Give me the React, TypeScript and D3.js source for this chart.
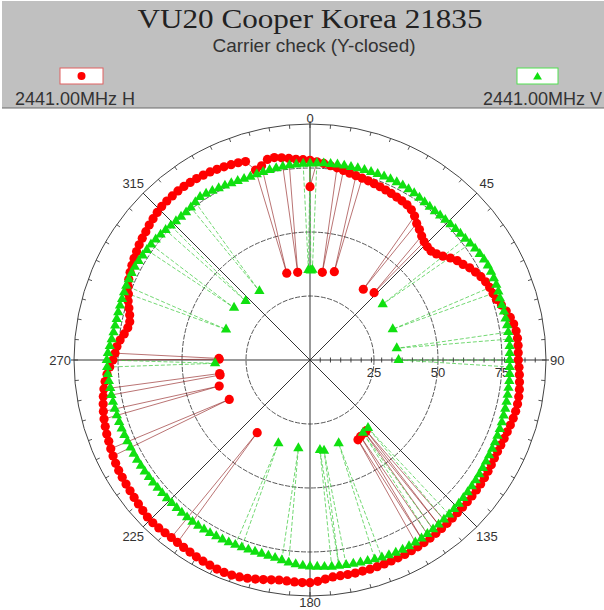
import * as d3 from "d3";
import * as React from "react";

const title = "VU20 Cooper Korea 21835";
const subtitle = "Carrier check (Y-closed)";
const seriesNames = ["2441.00MHz H", "2441.00MHz V"];

// main pattern, one value every 2 degrees (0..358)
const angleStep = 2;
const hMain = [
  78, 77.5, 77, 76.3, 75.8, 75.2, 74.6, 74.2, 73.9, 73.6,
  73.3, 73, 72.7, 72.4, 72.1, 71.8, 71.5, 70.8, 69.5, 67.7,
  66.5, 65.2, 64.2, 63.7, 63.6, 64.5, 65.9, 67.8, 69.4, 70.5,
  72, 73.2, 74.3, 75.1, 75.7, 76.1, 76.6, 77.8, 79, 80,
  80.8, 81.3, 81.5, 81.5, 81.4, 81.4, 81.7, 82, 82.3, 82.6,
  82.8, 82.9, 82.8, 82.6, 82.3, 82, 81.8, 81.6, 81.5, 81.6,
  81.8, 82, 82.2, 82.4, 82.5, 82.6, 82.7, 82.8, 82.9, 83.1,
  83.3, 83.5, 83.7, 83.9, 84.1, 84.3, 84.4, 84.5, 84.6, 84.7,
  84.8, 84.9, 85, 85, 85.1, 85.1, 85.1, 85.2, 85.8, 86.5,
  87, 87, 86.9, 86.8, 86.8, 87.2, 87.7, 88.2, 88.7, 89.1,
  89.4, 89.5, 89.4, 89.2, 89, 88.8, 88.5, 88.3, 88.1, 88,
  88.1, 88.3, 88.4, 88.3, 87.9, 87.5, 87.2, 86.9, 86.7, 86.5,
  86.3, 86, 85.6, 85.2, 84.8, 84.5, 84.1, 83.7, 83.2, 82.6,
  82, 81.3, 80.5, 79.5, 78.3, 77, 76.2, 75.6, 74.6, 73.3,
  72.3, 72, 72.6, 73.6, 74.7, 75.5, 76.6, 77.5, 78.2, 78.8,
  79.4, 79.9, 80.5, 81, 81.4, 82, 82.5, 83, 83.4, 83.6,
  83.7, 83.8, 83.8, 83.7, 83.6, 83.4, 83.2, 82.9, 82.6, 82.3,
  82, 81.5, 77.2, 78.2, 80.1, 80.3, 79.8, 79.2, 78.6, 78.3,
];
const vMain = [
  76.8, 76.9, 77, 77, 77.1, 77.1, 77.1, 77.2, 77.2, 77.2,
  77.3, 77.3, 77.3, 77.3, 77.2, 77, 76.8, 76.5, 76.2, 76,
  75.9, 76, 76.1, 76.3, 76.5, 76.7, 77, 77.4, 77.8, 78.2,
  78.5, 78.7, 78.7, 78.6, 78.5, 78.3, 78, 78, 78.1, 78.1,
  78.2, 78.2, 78.2, 78.2, 78.1, 78, 78.1, 78.2, 78.3, 78.3,
  78.4, 78.5, 78.6, 78.7, 78.8, 78.9, 79, 79.1, 79.2, 79.3,
  79.4, 79.6, 79.8, 80, 80.2, 80.4, 80.6, 80.8, 81, 81.2,
  81.4, 81.6, 81.8, 82, 82.2, 82.3, 82.4, 82.5, 82.4, 82.3,
  82.1, 81.9, 81.7, 81.5, 81.4, 81.3, 81.2, 81.2, 81, 80.8,
  80.7, 80.4, 80, 79.6, 79, 78.5, 78.2, 78, 77.9, 77.9,
  77.9, 77.9, 78, 78, 78, 78.1, 78.1, 78.1, 78.1, 78,
  77.9, 77.8, 77.7, 77.7, 77.7, 77.7, 77.8, 77.8, 77.9, 77.9,
  78, 78, 78, 78.1, 78.2, 78.3, 78.4, 78.5, 78.6, 78.7,
  78.8, 78.8, 79, 79.2, 79.3, 79.4, 79, 78.4, 77.9, 77.5,
  77.3, 77.2, 77.2, 77.2, 77.2, 77.3, 77.4, 77.5, 77.5, 77.5,
  77.3, 77.1, 76.9, 76.8, 76.5, 76.2, 75.9, 75.6, 75.4, 75.3,
  75.3, 75.6, 76.2, 76.8, 76.6, 76.3, 76, 75.8, 75.6, 75.4,
  75.3, 75.3, 75.5, 75.7, 75.9, 76.1, 76.3, 76.5, 76.6, 76.7,
];

// drop-out samples [angle, value]
const hDrops: [number, number][] = [
  [0, 67.7], [8, 34.6], [15.4, 35.8], [37, 34.6], [43.6, 36.3],
  [141.5, 35.3], [143, 35.6], [146.5, 35.8], [149, 36.4],
  [216, 35.1], [244, 35.1], [254, 36.9], [260.5, 35.6], [261.5, 35.7],
  [270.5, 35.5], [271, 35.6], [345, 35.1], [352, 34.6],
];
const vDrops: [number, number][] = [
  [0.5, 35], [1.5, 35.3], [52.5, 35.8], [69.6, 34.5], [82.3, 34.2], [90, 34.6],
  [139.5, 34.9], [144, 35.2], [161, 34.4], [171.2, 35.9], [173.7, 35.4],
  [187.5, 34.8], [200.8, 34.8], [268, 37.1], [290, 34.9], [304.5, 36],
  [312.5, 34.1], [323.7, 33.4], [359, 35.2],
];

const ringValues = [25, 50, 75];
const spokeAngles = [0, 45, 90, 135, 180, 225, 270, 315];
const angleLabels = ["0", "45", "90", "135", "180", "225", "270", "315"];

type Pt = { a: number; v: number };

const build = (main: number[], drops: [number, number][]): Pt[] =>
  main
    .map((v, i) => ({ a: i * angleStep, v }))
    .concat(drops.map(([a, v]) => ({ a, v })))
    .sort((p, q) => p.a - q.a);

export default function App() {
  const cx = 310, cy = 360, R = 236;
  const r = d3.scaleLinear().domain([0, 92.2]).range([0, R]);
  const rad = (a: number) => (a * Math.PI) / 180;

  const hPts = build(hMain, hDrops);
  const vPts = build(vMain, vDrops);

  const line = d3
    .lineRadial<Pt>()
    .angle((p) => rad(p.a))
    .radius((p) => r(p.v))
    .curve(d3.curveLinearClosed);

  const tri = d3.symbol(d3.symbolTriangle, 46)()!;
  const font = "Liberation Sans, Arial, sans-serif";

  const pos = (p: Pt) => d3.pointRadial(rad(p.a), r(p.v));

  return (
    <svg
      width={604}
      height={610}
      style={{ position: "absolute", left: 0, top: 0, background: "#fff" }}
    >
      {/* header */}
      <rect x={2} y={1} width={602} height={107} fill="#c0c0c0" />
      <line x1={2} x2={604} y1={108} y2={108} stroke="#6a6a6a" />
      <text
        x={310}
        y={28}
        textAnchor="middle"
        fontFamily="Liberation Serif, Times New Roman, serif"
        fontSize={28}
        fill="#222"
        textLength={345}
        lengthAdjust="spacingAndGlyphs"
      >
        {title}
      </text>
      <text x={314} y={52} textAnchor="middle" fontFamily={font} fontSize={19} fill="#333">
        {subtitle}
      </text>

      {/* legend */}
      <rect x={60} y={68} width={43} height={16} fill="#fff" stroke="#e06060" />
      <circle cx={81.5} cy={76} r={4} fill="#ff0000" />
      <text x={15} y={105} fontFamily={font} fontSize={18} fill="#333">
        {seriesNames[0]}
      </text>
      <rect x={517} y={68} width={41} height={16} fill="#fff" stroke="#50e050" />
      <path d={d3.symbol(d3.symbolTriangle, 34)()!} transform="translate(537.5,77)" fill="#10e010" />
      <text x={602} y={105} textAnchor="end" fontFamily={font} fontSize={18} fill="#333">
        {seriesNames[1]}
      </text>

      <g transform={`translate(${cx},${cy})`}>
        {/* grid */}
        {ringValues.map((v) => (
          <circle key={v} r={r(v)} fill="none" stroke="#444" strokeWidth={0.9} strokeDasharray="5 1.5" />
        ))}
        <circle r={R} fill="none" stroke="#444" strokeWidth={1} />
        {d3.range(0, 360, 5).map((a) => {
          const [x1, y1] = d3.pointRadial(rad(a), R);
          const [x2, y2] = d3.pointRadial(rad(a), R - 4);
          return <line key={a} x1={x1} y1={y1} x2={x2} y2={y2} stroke="#444" strokeWidth={0.9} />;
        })}
        {spokeAngles.map((a) => {
          const [x, y] = d3.pointRadial(rad(a), a % 90 === 0 ? R + 3 : R);
          return <line key={a} x1={0} y1={0} x2={x} y2={y} stroke="#333" strokeWidth={1} />;
        })}
        {d3.range(4, 92, 4).map((t) => (
          <line key={t} x1={r(t)} x2={r(t)} y1={-2.5} y2={2.5} stroke="#333" strokeWidth={0.9} />
        ))}
        {ringValues.map((v) => (
          <text key={v} x={r(v)} y={17} textAnchor="middle" fontFamily={font} fontSize={13} fill="#333">
            {v}
          </text>
        ))}
        {spokeAngles.map((a, i) => {
          const diag = a % 90 !== 0;
          const [x, y] = d3.pointRadial(rad(a), diag ? 250 : 242);
          let anchor = "middle";
          if (a === 90) anchor = "start";
          if (a === 270) anchor = "end";
          const tx = a === 90 ? R + 4 : a === 270 ? -R - 3 : x;
          return (
            <text key={a} x={tx} y={y + 4.5} textAnchor={anchor} fontFamily={font} fontSize={13} fill="#333">
              {angleLabels[i]}
            </text>
          );
        })}

        {/* series lines */}
        <path d={line(hPts)!} fill="none" stroke="#8b1515" strokeWidth={0.7} strokeOpacity={0.85} />
        <path
          d={line(vPts)!}
          fill="none"
          stroke="#3cc83c"
          strokeWidth={0.8}
          strokeDasharray="4 2"
          strokeOpacity={0.9}
        />

        {/* markers */}
        {hPts.map((p, i) => {
          const [x, y] = pos(p);
          return <circle key={i} cx={x} cy={y} r={4.6} fill="#ff0000" />;
        })}
        {vPts.map((p, i) => {
          const [x, y] = pos(p);
          return <path key={i} d={tri} transform={`translate(${x},${y})`} fill="#10e010" />;
        })}
      </g>
    </svg>
  );
}
